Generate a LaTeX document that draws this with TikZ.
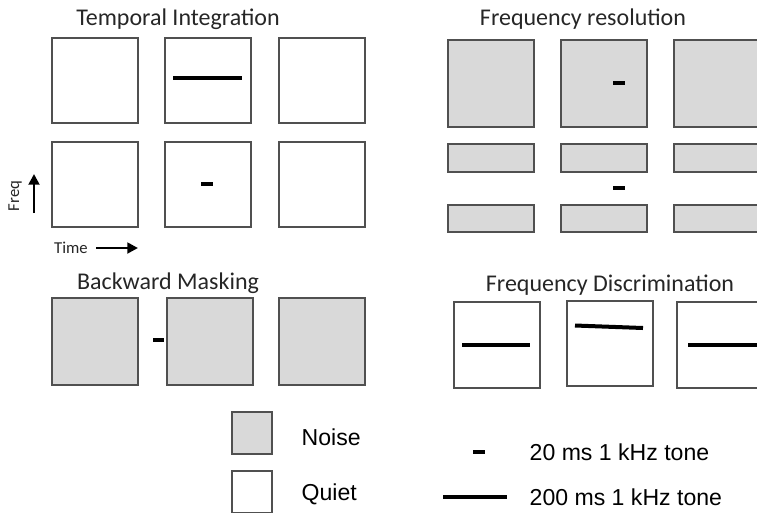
\documentclass[tikz,border=0pt]{standalone}
\usepackage{fontspec}
\setmainfont{Carlito}
\newfontfamily\legendfont{Liberation Sans}
\usetikzlibrary{arrows.meta}
\definecolor{boxline}{HTML}{505050}
\definecolor{noisefill}{HTML}{D9D9D9}
\definecolor{titlegray}{HTML}{262626}
\begin{document}
\begin{tikzpicture}[x=0.75pt,y=-0.75pt,
  quietbox/.style={draw=boxline,line width=1.5pt,fill=white,inner sep=0pt,minimum width=64.5pt,minimum height=64pt},
  noisebox/.style={quietbox,fill=noisefill},
  bandbox/.style={noisebox,minimum height=20.5pt},
  tone/.style={line width=3pt,black},
  title/.style={text=titlegray,font=\fontsize{18}{20}\selectfont},
  axislabel/.style={text=titlegray,font=\fontsize{12.5}{14}\selectfont},
  axisarrow/.style={line width=2.2pt,-{Triangle[length=8pt,width=8pt]}},
  legendtext/.style={anchor=west,font=\legendfont\fontsize{17.3}{19}\selectfont}]
\useasboundingbox (0,0) rectangle (757,512);
% temporal integration
\node[title] (tititle) at (178,19) {Temporal Integration};
\node[quietbox] (ti11) at (95,80.5) {};
\node[quietbox] (ti12) at (208,80.5) {};
\node[quietbox] (ti13) at (322,80.5) {};
\node[quietbox] (ti21) at (95,184.5) {};
\node[quietbox] (ti22) at (208,184.5) {};
\node[quietbox] (ti23) at (322,184.5) {};
\draw[tone] (173,78) -- (242,78);
\draw[tone] (201,184) -- (213,184);
% axes
\node[axislabel,rotate=90] (freq) at (15,196) {Freq};
\node[axislabel] (time) at (71,248) {Time};
\coordinate (freqtop) at (34,174);
\coordinate (timeend) at (138,248);
\draw[axisarrow] (34,213) -- (freqtop);
\draw[axisarrow] (time.east) ++(4,0) -- (timeend);
% backward masking
\node[title] (bmtitle) at (168,283) {Backward Masking};
\node[noisebox,minimum height=65pt] (bm1) at (95,341.5) {};
\node[noisebox,minimum height=65pt] (bm2) at (209.5,341.5) {};
\node[noisebox,minimum height=65pt] (bm3) at (321.5,341.5) {};
\draw[tone] (153,340) -- (164,340);
% frequency resolution
\node[title] (frtitle) at (583,19) {Frequency resolution};
\node[noisebox,minimum height=65pt] (fr11) at (490.5,83.5) {};
\node[noisebox,minimum height=65pt] (fr12) at (603.5,83.5) {};
\node[noisebox,minimum height=65pt] (fr13) at (716.5,83.5) {};
\node[bandbox] (fr21) at (490.5,158) {};
\node[bandbox] (fr22) at (603.5,158) {};
\node[bandbox] (fr23) at (716.5,158) {};
\node[bandbox] (fr31) at (490.5,218.5) {};
\node[bandbox] (fr32) at (603.5,218.5) {};
\node[bandbox] (fr33) at (716.5,218.5) {};
\draw[tone] (613,83) -- (625,83);
\draw[tone] (613,188) -- (625,188);
% frequency discrimination
\node[title] (fdtitle) at (610,285) {Frequency Discrimination};
\node[quietbox] (fd1) at (496.5,345) {};
\node[quietbox] (fd2) at (609.5,343.5) {};
\node[quietbox] (fd3) at (720,345) {};
\draw[tone] (462,345) -- (530,345);
\draw[tone] (575,325.5) -- (643,328);
\draw[tone] (688,345) -- (762,345);
% legend
\node[noisebox,minimum width=30pt,minimum height=31pt] (noisekey) at (252,433) {};
\node[quietbox,minimum width=30pt,minimum height=31pt] (quietkey) at (252,492) {};
\node[legendtext] (noiselabel) at (297,437) {Noise};
\node[legendtext] (quietlabel) at (297,494) {Quiet};
\draw[tone] (473,452) -- (485,452);
\draw[tone] (443,497) -- (507,497);
\node[legendtext] (shortlabel) at (525,452) {20 ms 1 kHz tone};
\node[legendtext] (longlabel) at (525,497) {200 ms 1 kHz tone};
\end{tikzpicture}
\end{document}
